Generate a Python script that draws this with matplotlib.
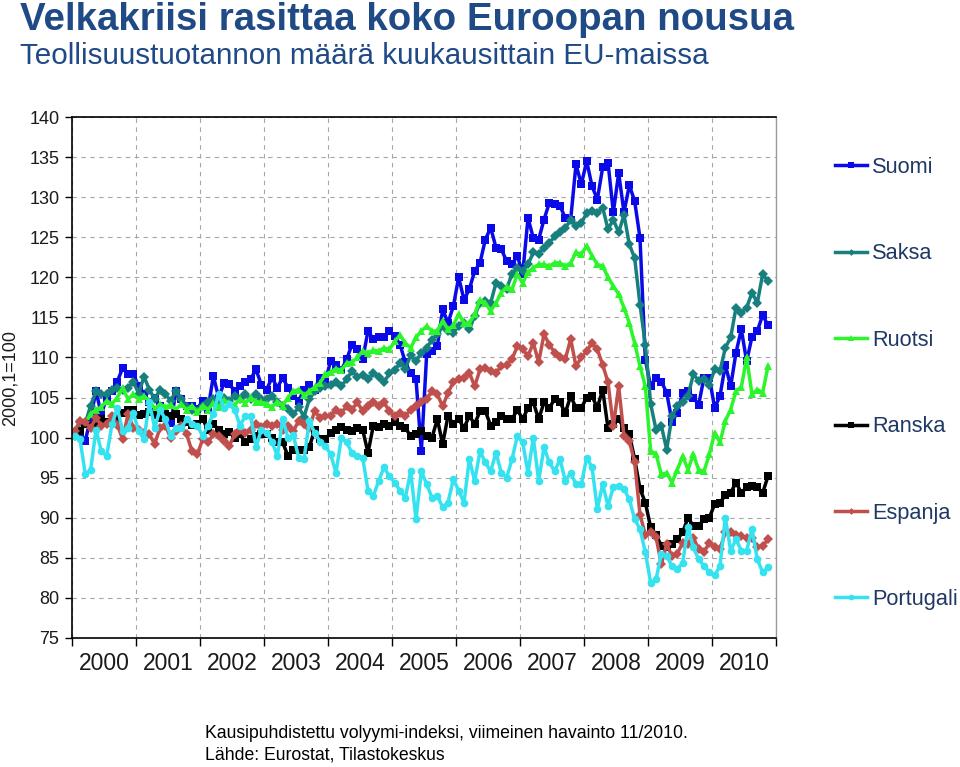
import numpy as np
import matplotlib
matplotlib.use("Agg")
import matplotlib.pyplot as plt

plt.rcParams['font.family'] = ['Liberation Sans', 'DejaVu Sans']

# monthly index 2000M01 .. 2010M11 (2000,1 = 100)
years = [str(y) for y in range(2000, 2011)]

suomi = [
    100.3, 100.5, 99.6, 102.5, 105.8, 102.9, 105.0, 105.8, 107.0, 108.7, 107.9, 107.9,
    106.4, 105.5, 104.4, 105.0, 103.9, 103.0, 101.8, 105.8, 104.8, 103.9, 103.9, 103.6,
    104.6, 103.5, 107.7, 105.0, 106.8, 106.7, 105.8, 106.4, 107.0, 107.3, 108.5, 106.6,
    106.0, 107.5, 106.2, 107.5, 106.2, 105.2, 104.6, 106.0, 106.6, 106.0, 107.5, 107.0,
    109.6, 109.1, 108.4, 109.8, 111.6, 111.0, 109.8, 113.3, 112.3, 112.5, 112.5, 113.3,
    112.7, 111.6, 109.4, 108.0, 107.3, 98.3, 110.4, 110.8, 111.4, 116.0, 114.3, 116.4,
    120.0, 117.2, 118.5, 120.8, 121.8, 124.7, 126.2, 123.7, 123.5, 122.0, 121.6, 122.7,
    120.4, 127.4, 124.9, 124.7, 127.2, 129.3, 129.1, 128.9, 127.4, 127.2, 134.1, 131.6,
    134.5, 131.4, 129.7, 133.7, 134.3, 128.1, 133.0, 128.1, 131.5, 129.5, 124.9, 109.7,
    106.4, 107.5, 107.0, 105.6, 102.0, 103.1, 105.6, 105.8, 105.0, 104.1, 107.5, 107.5,
    103.7, 105.2, 109.1, 106.4, 110.6, 113.5, 109.5, 112.6, 113.3, 115.3, 114.0]

saksa = [
    100.2, 102.0, 101.8, 104.0, 105.8, 105.4, 105.4, 106.0, 106.2, 106.0, 106.2, 107.0,
    105.5, 107.6, 106.0, 104.8, 106.0, 105.4, 104.6, 105.8, 104.8, 103.8, 103.5, 103.3,
    104.0, 104.4, 104.8, 104.2, 105.0, 104.6, 105.2, 104.8, 105.4, 104.8, 105.4, 104.8,
    104.8, 105.2, 104.4, 104.0, 103.6, 102.9, 103.8, 102.6, 104.8, 105.8, 106.2, 106.4,
    106.6, 106.9, 106.4, 107.3, 108.3, 107.6, 107.8, 107.3, 108.0, 107.6, 106.9, 108.0,
    108.4, 109.3, 108.6, 110.3, 109.5, 110.6, 111.2, 112.2, 112.9, 113.9, 113.3, 113.1,
    113.9, 114.3, 113.5, 115.2, 116.8, 117.0, 116.8, 119.3, 118.9, 118.6, 120.4, 121.2,
    120.8, 121.6, 123.1, 122.9, 123.7, 124.3, 125.1, 125.6, 126.2, 127.1, 126.4, 126.8,
    128.0, 128.3, 128.0, 128.7, 126.0, 127.2, 125.6, 127.8, 124.1, 122.4, 116.6, 111.6,
    104.2, 101.0, 101.5, 98.5, 102.7, 103.9, 104.4, 105.2, 107.9, 107.1, 107.3, 106.6,
    108.5, 108.3, 111.2, 112.5, 116.2, 115.6, 116.2, 118.1, 116.8, 120.4, 119.5]

ruotsi = [
    100.2, 101.0, 101.7, 103.0, 103.5, 103.8, 104.6, 104.2, 105.0, 106.2, 104.8, 105.4,
    104.8, 105.2, 104.6, 103.6, 104.2, 103.8, 104.1, 103.5, 104.2, 103.4, 104.0, 103.2,
    104.0, 103.5, 104.3, 103.8, 104.7, 104.3, 104.1, 104.8, 104.3, 105.0, 104.5, 104.4,
    104.2, 103.8, 104.5, 104.0, 105.0, 105.8, 106.0, 105.3, 105.8, 106.3, 106.8, 107.9,
    108.2, 108.6, 108.4, 109.3, 109.4, 110.0, 110.8, 110.6, 110.9, 110.8, 111.2, 111.0,
    112.0, 112.8, 111.8, 111.2, 112.5, 113.3, 113.9, 113.3, 113.3, 114.6, 113.5, 114.0,
    115.4, 114.3, 114.3, 115.4, 117.2, 116.8, 115.8, 116.8, 118.1, 118.8, 118.5, 120.4,
    119.3, 120.6, 121.2, 121.6, 121.6, 121.4, 121.8, 121.8, 121.4, 121.8, 123.1, 122.9,
    123.9, 122.7, 121.6, 121.4, 120.0, 118.9, 117.9, 116.2, 114.3, 111.8, 108.9, 106.4,
    98.3, 98.0, 95.4, 95.6, 94.4, 96.0, 97.7, 96.0, 97.9, 96.0, 95.8, 97.9,
    100.6, 99.4, 102.1, 103.5, 105.8, 106.3, 110.0, 105.4, 106.0, 105.6, 108.9]

ranska = [
    100.4, 100.8, 101.7, 101.5, 101.8, 102.3, 102.0, 101.8, 102.3, 103.1, 103.5, 103.5,
    102.8, 103.0, 103.2, 102.8, 102.5, 102.9, 102.7, 103.0, 102.3, 101.9, 101.6, 101.7,
    102.3, 101.0, 101.7, 101.0, 100.4, 100.7, 100.0, 100.4, 99.4, 99.8, 100.2, 100.4,
    100.4, 100.0, 99.4, 99.4, 97.7, 98.5, 98.5, 98.5, 98.8, 101.0, 99.8, 99.8,
    100.6, 101.0, 101.3, 100.9, 100.8, 101.2, 101.0, 98.1, 101.5, 101.3, 101.7, 101.5,
    102.0, 101.4, 101.2, 100.2, 100.4, 100.8, 100.2, 100.0, 102.3, 99.2, 102.7, 101.7,
    102.3, 101.2, 102.7, 101.7, 103.3, 103.3, 101.5, 101.9, 102.7, 102.3, 102.3, 103.5,
    102.3, 103.7, 104.4, 102.3, 104.4, 103.7, 104.8, 104.4, 103.1, 105.2, 103.7, 103.7,
    105.0, 105.2, 103.7, 106.0, 101.2, 101.7, 102.3, 101.2, 100.4, 97.3, 93.6, 91.9,
    88.8, 87.9, 86.5, 86.3, 86.7, 87.3, 88.2, 90.0, 89.0, 89.0, 89.8, 90.0,
    91.7, 91.9, 92.8, 93.1, 94.4, 93.1, 93.8, 94.0, 93.8, 93.1, 95.2]

espanja = [
    100.8, 102.1, 101.9, 101.2, 102.5, 101.5, 101.7, 102.7, 101.6, 99.8, 102.9, 101.2,
    101.0, 100.6, 100.4, 99.2, 101.2, 101.5, 100.0, 100.8, 101.5, 100.4, 98.3, 97.9,
    99.8, 99.4, 100.4, 100.2, 99.6, 99.0, 100.4, 101.0, 100.6, 101.0, 101.7, 101.3,
    101.7, 101.5, 101.7, 101.0, 101.5, 100.8, 102.1, 101.7, 101.2, 103.3, 102.5, 102.7,
    102.7, 103.5, 103.1, 103.9, 103.5, 104.4, 103.3, 103.9, 104.4, 103.9, 104.4, 103.3,
    102.7, 103.1, 102.7, 103.5, 103.9, 104.4, 104.8, 105.8, 105.4, 103.9, 105.6, 106.9,
    107.3, 107.5, 108.1, 106.4, 108.5, 108.7, 108.3, 108.1, 108.9, 109.1, 109.8, 111.4,
    111.0, 110.2, 111.8, 109.4, 112.9, 111.6, 110.6, 110.0, 109.8, 112.3, 108.9, 110.0,
    110.8, 111.8, 111.0, 109.1, 106.9, 101.4, 106.4, 100.2, 99.6, 96.9, 90.4, 87.9,
    88.2, 87.6, 84.2, 86.7, 85.2, 85.5, 86.9, 86.7, 87.5, 86.1, 85.7, 86.9,
    86.3, 86.1, 88.2, 88.2, 87.9, 87.7, 87.5, 87.5, 86.3, 86.5, 87.3]

portugali = [
    100.2, 99.8, 95.4, 96.0, 101.0, 98.3, 97.7, 101.7, 103.7, 100.8, 101.2, 103.1,
    100.8, 99.8, 104.4, 101.2, 103.5, 102.3, 100.2, 101.2, 101.2, 102.3, 101.7, 101.5,
    100.2, 101.5, 103.0, 105.4, 103.7, 104.2, 103.5, 101.5, 102.7, 102.7, 98.8, 101.0,
    100.6, 99.5, 97.7, 102.3, 100.0, 100.3, 97.5, 97.3, 102.1, 100.6, 99.5, 99.0,
    97.9, 95.6, 100.0, 99.4, 98.1, 97.7, 97.5, 93.4, 92.7, 94.6, 96.3, 95.2,
    94.4, 93.4, 92.5, 95.8, 89.8, 95.8, 94.2, 92.5, 92.7, 91.3, 91.9, 94.8,
    93.4, 91.9, 97.3, 94.6, 98.3, 96.9, 95.8, 98.1, 95.6, 95.0, 97.3, 100.2,
    99.4, 95.6, 100.0, 94.6, 98.8, 96.9, 95.8, 97.3, 94.6, 95.6, 94.2, 94.2,
    97.5, 96.3, 91.1, 94.2, 91.5, 93.8, 94.0, 93.6, 92.3, 89.8, 88.6, 85.7,
    81.9, 82.3, 85.5, 85.2, 84.0, 83.6, 84.4, 88.8, 86.3, 84.8, 84.0, 83.2,
    82.8, 84.0, 90.0, 85.9, 87.3, 85.9, 85.9, 88.6, 84.8, 83.2, 83.8]

series = [
    ("Suomi", suomi, '#0A0AE8', 's', 5.5),
    ("Saksa", saksa, '#17807E', 'D', 4.6),
    ("Ruotsi", ruotsi, '#2CF52C', '^', 6.0),
    ("Ranska", ranska, '#000000', 's', 5.5),
    ("Espanja", espanja, '#C0504D', 'D', 4.6),
    ("Portugali", portugali, '#35E2F0', 'o', 5.5),
]

fig = plt.figure(figsize=(9.6, 7.67), dpi=100)
ax = fig.add_axes([72 / 960, 1 - 638 / 767, (776 - 72) / 960, (638 - 117) / 767])

for name, vals, col, mk, ms in series:
    x = np.arange(len(vals))
    ax.plot(x, vals, color=col, lw=2.5, marker=mk, markersize=ms,
            markeredgewidth=0, label=name)

ax.set_xlim(-0.5, 131.5)
ax.set_ylim(75, 140)
ax.set_yticks(np.arange(75, 141, 5))
ax.set_xticks(np.arange(-0.5, 132, 12))
ax.set_xticks(np.arange(5.5, 132, 12), minor=True)
ax.set_xticklabels(years, minor=True)
ax.tick_params(axis='x', which='major', length=6, labelbottom=False, width=1)
ax.tick_params(axis='x', which='minor', length=0, pad=10, labelsize=16.5, colors='#1a1a1a')
ax.tick_params(axis='y', length=5, width=1, pad=4, labelsize=13, colors='#1a1a1a')
ax.tick_params(axis='both', which='both', color='black')

ax.grid(True, which='major', ls=(0, (4, 4)), color='#A6A6A6', lw=0.8)
ax.set_axisbelow(True)
for s in ['left', 'bottom', 'top']:
    ax.spines[s].set_linewidth(1.2)
    ax.spines[s].set_color('black')
ax.spines['right'].set_color('#9a9a9a')
ax.spines['right'].set_linewidth(1.0)

fig.legend(loc='upper left', bbox_to_anchor=(835 / 960, 1 - 157 / 767),
           frameon=False, fontsize=15.7, labelspacing=3.0, handlelength=1.45,
           handletextpad=0.25, borderpad=0, borderaxespad=0, markerscale=0.75,
           labelcolor='#203864')

fig.text(20 / 960, 1 - 30 / 767, "Velkakriisi rasittaa koko Euroopan nousua",
         fontsize=27.7, weight='bold', color='#1F4A85', va='baseline')
fig.text(20 / 960, 1 - 64 / 767, "Teollisuustuotannon määrä kuukausittain EU-maissa",
         fontsize=21.3, color='#1F4A85', va='baseline')
fig.text(10 / 960, 1 - 378 / 767, "2000,1=100", rotation=90, fontsize=13,
         ha='center', va='center', color='#1a1a1a')
fig.text(205 / 960, 1 - 738 / 767,
         "Kausipuhdistettu volyymi-indeksi, viimeinen havainto 11/2010.",
         fontsize=12.7, va='baseline')
fig.text(205 / 960, 1 - 760 / 767, "Lähde: Eurostat, Tilastokeskus",
         fontsize=12.7, va='baseline')

fig.savefig("out.png", dpi=100)
